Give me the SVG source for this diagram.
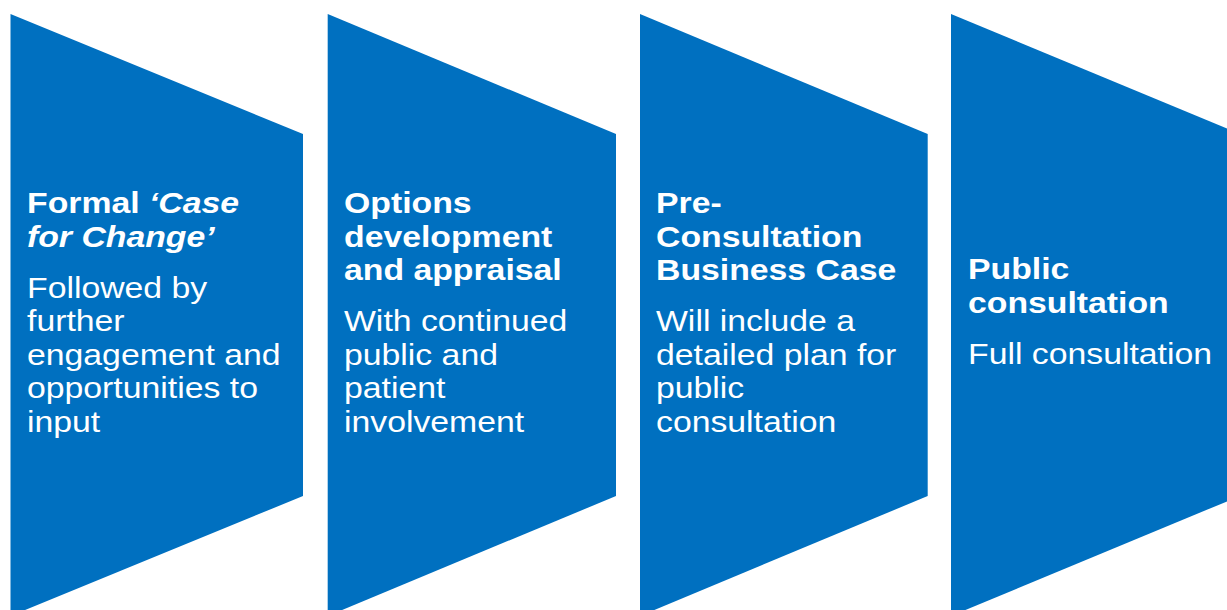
<svg xmlns="http://www.w3.org/2000/svg" width="1227" height="610" viewBox="0 0 1227 610">
  <style>
    .step { fill: #0070C0; }
    .label { font-family: "Liberation Sans", Arial, sans-serif; font-size: 29px; fill: #FFFFFF; }
    .head { font-weight: bold; }
    .it { font-style: italic; }
  </style>
  <rect width="1227" height="610" fill="#FFFFFF"/>

  <!-- Stage 1 -->
  <g id="step-case-for-change">
    <polygon class="step" points="10.5,14 303,134 303,496 10.5,616"/>
    <text class="label" transform="translate(27 0) scale(1.165 1)">
      <tspan class="head" x="0" y="213">Formal <tspan class="it">‘Case</tspan></tspan>
      <tspan class="head it" x="0" y="246.6">for Change’</tspan>
      <tspan x="0" y="297.6">Followed by</tspan>
      <tspan x="0" y="331.2">further</tspan>
      <tspan x="0" y="364.8">engagement and</tspan>
      <tspan x="0" y="398.4">opportunities to</tspan>
      <tspan x="0" y="432">input</tspan>
    </text>
  </g>

  <!-- Stage 2 -->
  <g id="step-options">
    <polygon class="step" points="327.7,14 616,134 616,496 327.7,616"/>
    <text class="label" transform="translate(344 0) scale(1.165 1)">
      <tspan class="head" x="0" y="213">Options</tspan>
      <tspan class="head" x="0" y="246.6">development</tspan>
      <tspan class="head" x="0" y="280.2">and appraisal</tspan>
      <tspan x="0" y="331.2">With continued</tspan>
      <tspan x="0" y="364.8">public and</tspan>
      <tspan x="0" y="398.4">patient</tspan>
      <tspan x="0" y="432">involvement</tspan>
    </text>
  </g>

  <!-- Stage 3 -->
  <g id="step-pcbc">
    <polygon class="step" points="640,14 927.7,134 927.7,496 640,616"/>
    <text class="label" transform="translate(656 0) scale(1.165 1)">
      <tspan class="head" x="0" y="213">Pre-</tspan>
      <tspan class="head" x="0" y="246.6">Consultation</tspan>
      <tspan class="head" x="0" y="280.2">Business Case</tspan>
      <tspan x="0" y="331.2">Will include a</tspan>
      <tspan x="0" y="364.8">detailed plan for</tspan>
      <tspan x="0" y="398.4">public</tspan>
      <tspan x="0" y="432">consultation</tspan>
    </text>
  </g>

  <!-- Stage 4 -->
  <g id="step-public-consultation">
    <polygon class="step" points="951,14 1240,134 1240,496 951,616"/>
    <text class="label" transform="translate(968 0) scale(1.165 1)">
      <tspan class="head" x="0" y="279">Public</tspan>
      <tspan class="head" x="0" y="312.6">consultation</tspan>
      <tspan x="0" y="363.6">Full consultation</tspan>
    </text>
  </g>
</svg>
